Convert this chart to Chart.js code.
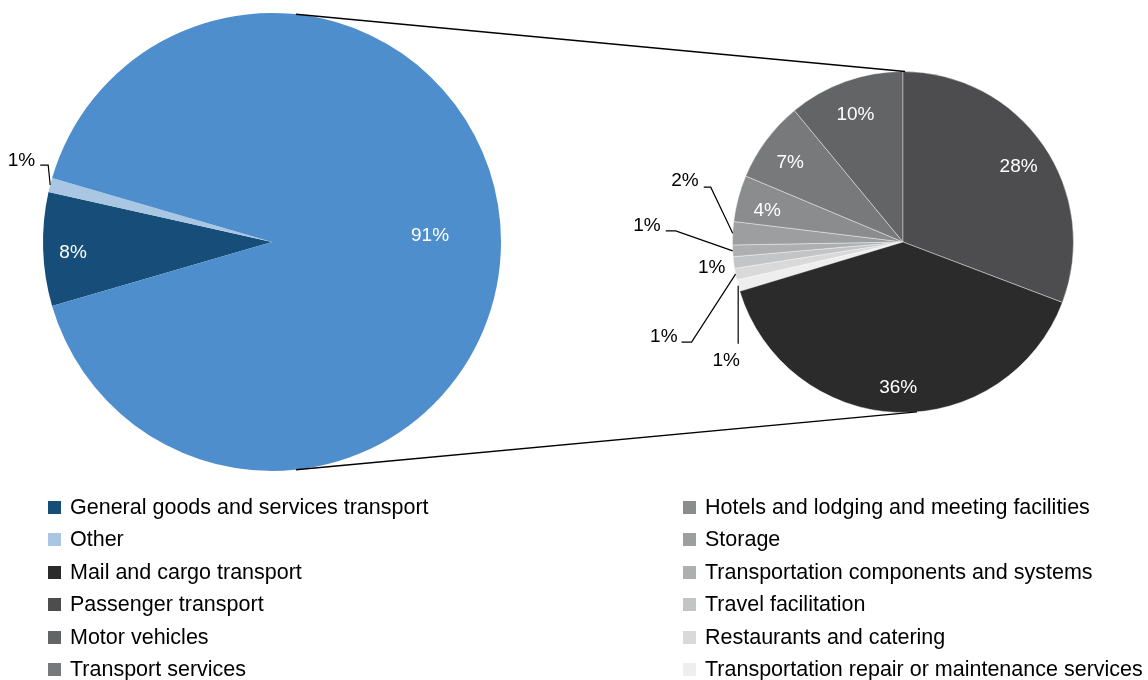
<!DOCTYPE html>
<html>
<head>
<meta charset="utf-8">
<script src="https://cdn.jsdelivr.net/npm/chart.js@4.4.1/dist/chart.umd.min.js"></script>
<style>
  body { margin: 0; background: #fff; width: 1148px; height: 680px; overflow: hidden; position: relative;
         font-family: "Liberation Sans", Arial, sans-serif; }
  canvas.layer { position: absolute; left: 0; top: 0; }
  .legend-col { position: absolute; top: 491px; }
  .legend-item { height: 32.5px; display: flex; align-items: center; font-size: 21.5px; color: #000; white-space: nowrap; }
  .legend-item span.sw { width: 13px; height: 13px; margin-right: 9px; flex: none; }
</style>
</head>
<body>
<canvas id="leftPie" class="layer" width="1148" height="680"></canvas>
<canvas id="rightPie" class="layer" width="1148" height="680"></canvas>
<div id="legendLeft" class="legend-col" style="left:48px"></div>
<div id="legendRight" class="legend-col" style="left:683px"></div>
<script>
// main pie: categories shown on their own
const leftCategories = ["General goods and services transport", "Other"];
const leftValues = [8, 1];
const leftColors = ["#164e79", "#a9c7e3"];
const groupColor = "#4f8ecd";

// split-out pie (share of total, %)
const rightCategories = [
  "Mail and cargo transport",
  "Passenger transport",
  "Motor vehicles",
  "Transport services",
  "Hotels and lodging and meeting facilities",
  "Storage",
  "Transportation components and systems",
  "Travel facilitation",
  "Restaurants and catering",
  "Transportation repair or maintenance services"
];
const rightValues = [36, 28, 10, 7, 4, 2, 1, 1, 1, 1];
const rightColors = ["#2b2b2b", "#4d4d4f", "#636466", "#78797b", "#8b8c8e",
                     "#9d9ea0", "#aeafb1", "#c3c4c6", "#d9d9da", "#eeeeef"];

const sum = a => a.reduce((s, v) => s + v, 0);
const groupValue = sum(rightValues);
const grandTotal = sum(leftValues) + groupValue;

// small slices get an outside label with a leader line (offsets from the slice edge)
const callouts = {
  "Other": { elbow: [-2, -20], tail: -8, text: [-5, -4] },
  "Storage": { elbow: [-22, -46], tail: -7, text: [-5, -6] },
  "Transportation components and systems": { elbow: [-57, -20], tail: -10, text: [-5, -5] },
  "Travel facilitation": { noLine: true, text: [-22, 5] },
  "Restaurants and catering": { elbow: [-44, 68], tail: -10, text: [-4, -5] },
  "Transportation repair or maintenance services": { elbow: [0, 58], tail: 0, center: true, text: [-12, 17] }
};

const FONT = '19px "Liberation Sans", Arial, sans-serif';

function pctText(v) {
  return Math.round(v / grandTotal * 100) + "%";
}

function labelPlugin(labels, values) {
  return {
    id: "pieLabels",
    afterDatasetsDraw(chart) {
      const ctx = chart.ctx;
      const arcs = chart.getDatasetMeta(0).data;
      const total = sum(values);
      ctx.save();
      ctx.font = FONT;
      ctx.textBaseline = "middle";
      arcs.forEach((arc, i) => {
        const p = arc.getProps(["x", "y", "startAngle", "endAngle", "outerRadius"], true);
        const mid = (p.startAngle + p.endAngle) / 2;
        const txt = pctText(values[i]);
        const c = callouts[labels[i]];
        if (c) {
          const ex = p.x + Math.cos(mid) * p.outerRadius;
          const ey = p.y + Math.sin(mid) * p.outerRadius;
          ctx.fillStyle = "#000";
          if (c.noLine) {
            ctx.textAlign = "center";
            ctx.fillText(txt, ex + c.text[0], ey + c.text[1]);
            return;
          }
          const bx = ex + c.elbow[0], by = ey + c.elbow[1];
          const tx = bx + c.tail;
          ctx.strokeStyle = "#000";
          ctx.lineWidth = 1.2;
          ctx.beginPath();
          ctx.moveTo(ex, ey);
          ctx.lineTo(bx, by);
          ctx.lineTo(tx, by);
          ctx.stroke();
          ctx.textAlign = c.center ? "center" : "right";
          ctx.fillText(txt, tx + c.text[0], by + c.text[1]);
          return;
        }
        const big = values[i] / total > 0.5;
        const r = big ? p.outerRadius * 0.69 : p.outerRadius - 30;
        const dy = big ? -6 : 5;
        ctx.fillStyle = "#fff";
        ctx.textAlign = "center";
        ctx.fillText(txt, p.x + Math.cos(mid) * r, p.y + Math.sin(mid) * r + dy);
      });
      ctx.restore();
    }
  };
}

// left pie: shown categories first, aggregate slice centred on the right
const leftData = leftValues.concat([groupValue]);
const leftLabels = leftCategories.concat(["group"]);
const leftRotation = 90 - (groupValue / grandTotal) * 180 - (sum(leftValues) / grandTotal) * 360;

const leftChart = new Chart(document.getElementById("leftPie"), {
  type: "pie",
  data: {
    labels: leftLabels,
    datasets: [{
      data: leftData,
      backgroundColor: leftColors.concat([groupColor]),
      borderWidth: 0
    }]
  },
  options: {
    responsive: false,
    animation: false,
    events: [],
    rotation: leftRotation,
    layout: { padding: { left: 43, top: 13, right: 647, bottom: 209 } },
    plugins: { legend: { display: false }, tooltip: { enabled: false } }
  },
  plugins: [labelPlugin(leftLabels, leftData)]
});

// right pie: drawn clockwise in reverse legend order, passenger slice starting at the top
const drawLabels = rightCategories.slice().reverse();
const drawValues = rightValues.slice().reverse();
const drawColors = rightColors.slice().reverse();
const beforePassenger = sum(drawValues.slice(0, drawLabels.indexOf("Passenger transport")));
const rightRotation = -beforePassenger / groupValue * 360;

const connectors = {
  id: "connectors",
  afterDraw(chart) {
    const a = leftChart.getDatasetMeta(0).data[0];
    const b = chart.getDatasetMeta(0).data[0];
    const pt = (arc, deg) => {
      const t = (deg - 90) * Math.PI / 180;
      return [arc.x + Math.cos(t) * arc.outerRadius, arc.y + Math.sin(t) * arc.outerRadius];
    };
    const ctx = chart.ctx;
    ctx.save();
    ctx.strokeStyle = "#000";
    ctx.lineWidth = 1.3;
    [[6, 0.7], [174, 175.3]].forEach(([da, db]) => {
      const p1 = pt(a, da), p2 = pt(b, db);
      ctx.beginPath();
      ctx.moveTo(p1[0], p1[1]);
      ctx.lineTo(p2[0], p2[1]);
      ctx.stroke();
    });
    ctx.restore();
  }
};

new Chart(document.getElementById("rightPie"), {
  type: "pie",
  data: {
    labels: drawLabels,
    datasets: [{
      data: drawValues,
      backgroundColor: drawColors,
      borderColor: "rgba(255,255,255,0.4)",
      borderWidth: 1
    }]
  },
  options: {
    responsive: false,
    animation: false,
    events: [],
    rotation: rightRotation,
    layout: { padding: { left: 732, top: 71, right: 74, bottom: 267 } },
    plugins: { legend: { display: false }, tooltip: { enabled: false } }
  },
  plugins: [labelPlugin(drawLabels, drawValues), connectors]
});

// legend, two columns filled top to bottom
const legendItems = leftCategories.map((c, i) => [c, leftColors[i]])
  .concat(rightCategories.map((c, i) => [c, rightColors[i]]));
const perCol = Math.ceil(legendItems.length / 2);
legendItems.forEach(([label, color], i) => {
  const col = document.getElementById(i < perCol ? "legendLeft" : "legendRight");
  const row = document.createElement("div");
  row.className = "legend-item";
  const sw = document.createElement("span");
  sw.className = "sw";
  sw.style.background = color;
  row.appendChild(sw);
  row.appendChild(document.createTextNode(label));
  col.appendChild(row);
});
</script>
</body>
</html>
